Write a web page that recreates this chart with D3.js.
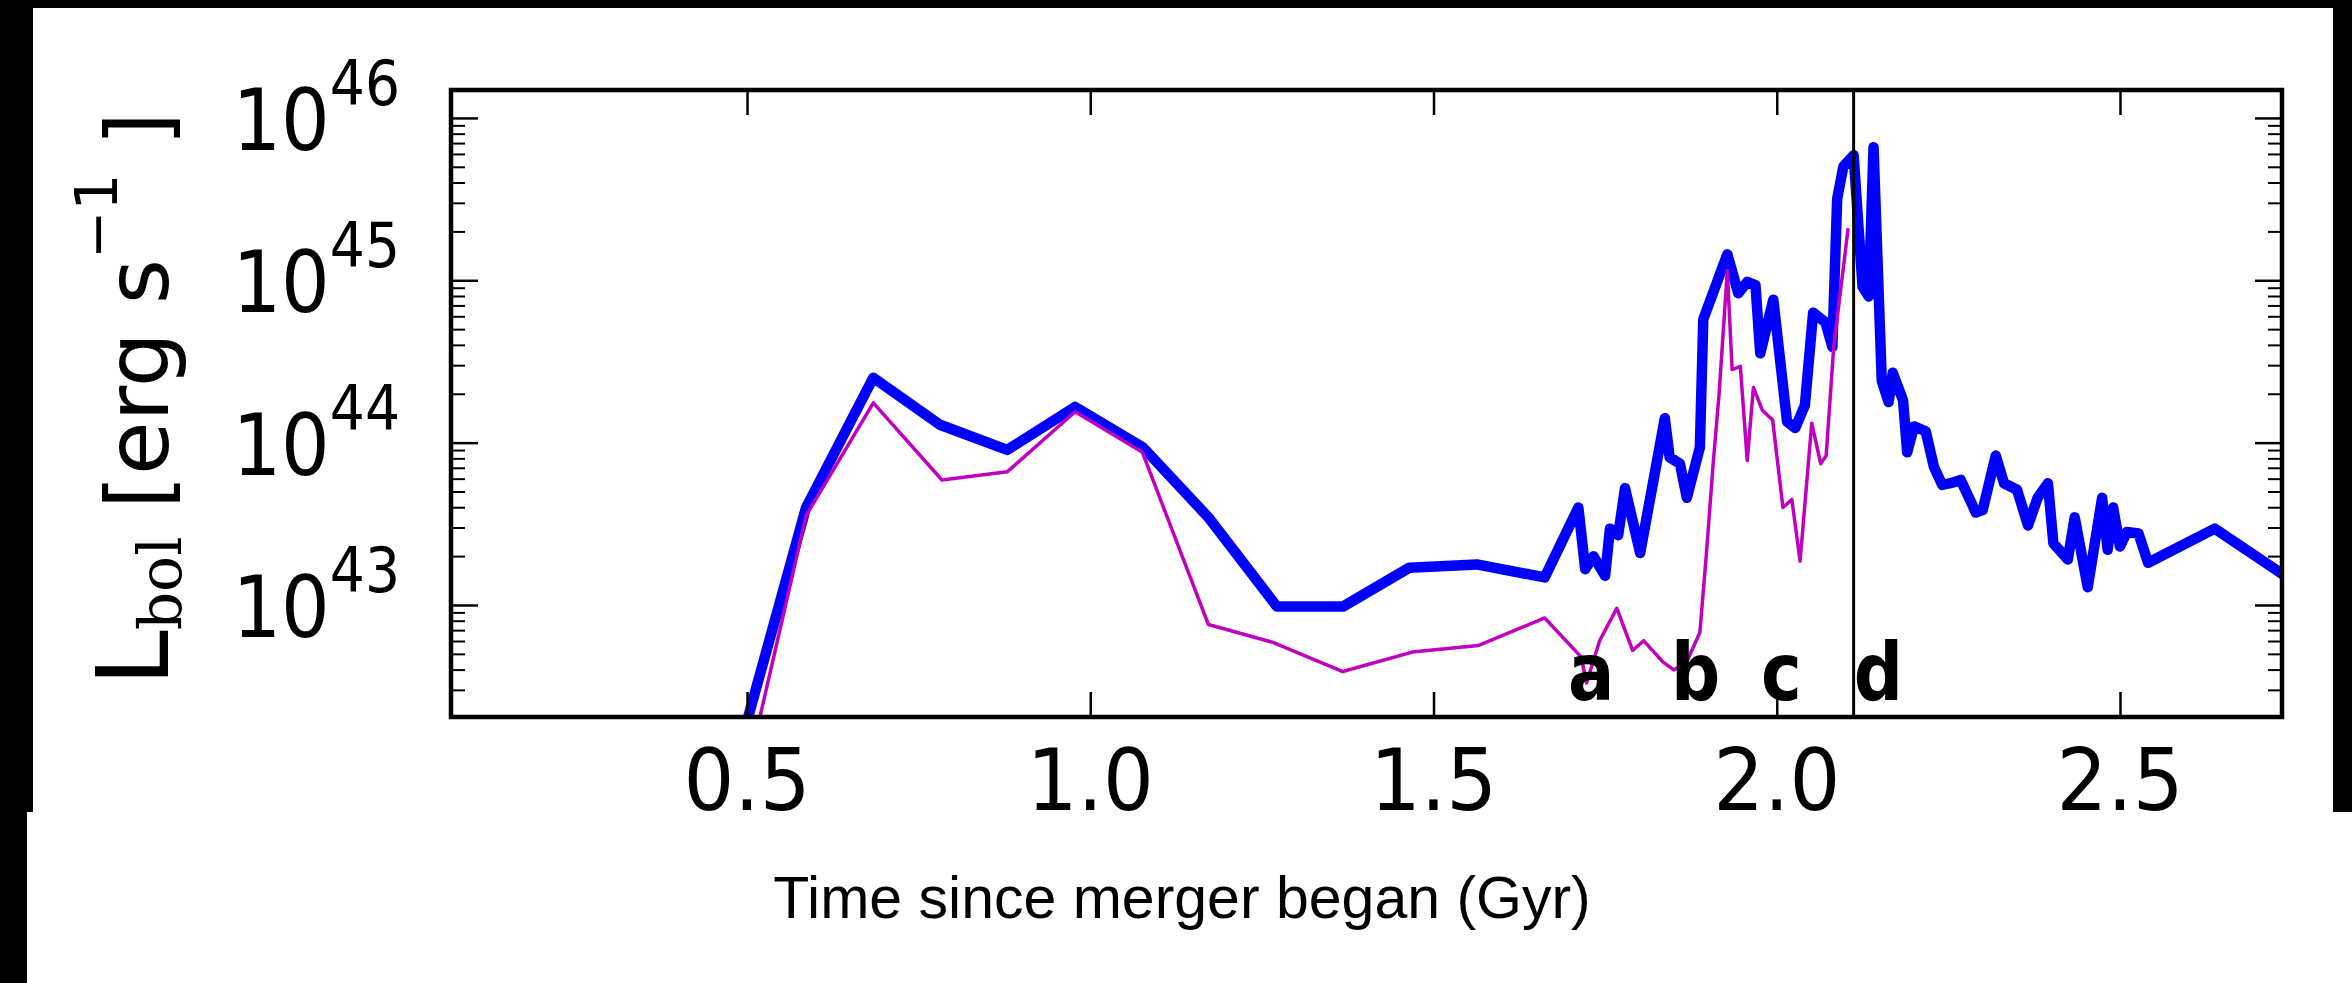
<!DOCTYPE html>
<html>
<head>
<meta charset="utf-8">
<script src="https://cdn.jsdelivr.net/npm/d3@7"></script>
<style>
  body { margin: 0; background: #000; }
  svg { display: block; }
</style>
</head>
<body>
<div class="chart"></div>
<script>
// bolometric luminosity during the merger, thick blue = total, thin magenta = one black hole
// values are log10(L / erg s^-1)

var blueTime = [0.488, 0.586, 0.684, 0.781, 0.879, 0.978, 1.077, 1.172, 1.272, 1.368,
  1.465, 1.563, 1.662, 1.711, 1.721, 1.733, 1.750, 1.757, 1.769, 1.779,
  1.801, 1.837, 1.844, 1.859, 1.869, 1.888, 1.893, 1.928, 1.944, 1.957,
  1.969, 1.976, 1.995, 2.015, 2.027, 2.041, 2.053, 2.071, 2.081, 2.088,
  2.097, 2.112, 2.125, 2.134, 2.141, 2.153, 2.163, 2.169, 2.184, 2.190,
  2.200, 2.217, 2.229, 2.241, 2.253, 2.268, 2.290, 2.300, 2.319, 2.331,
  2.350, 2.366, 2.380, 2.395, 2.403, 2.424, 2.434, 2.453, 2.474, 2.482,
  2.490, 2.500, 2.510, 2.527, 2.541, 2.638, 2.733, 2.760]
var blueLogL = [42.10, 43.60, 44.40, 44.11, 43.955, 44.22, 43.97, 43.54, 42.99, 42.99,
  43.23, 43.25, 43.17, 43.60, 43.22, 43.30, 43.18, 43.47, 43.43, 43.72,
  43.32, 44.15, 43.91, 43.87, 43.66, 43.97, 44.76, 45.16, 44.92, 44.99,
  44.97, 44.55, 44.88, 44.13, 44.09, 44.23, 44.80, 44.74, 44.59, 45.50,
  45.70, 45.77, 44.96, 44.90, 45.82, 44.38, 44.25, 44.43, 44.26, 43.94,
  44.10, 44.07, 43.85, 43.74, 43.75, 43.77, 43.57, 43.585, 43.92, 43.75,
  43.71, 43.49, 43.66, 43.75, 43.38, 43.28, 43.54, 43.11, 43.66, 43.34,
  43.60, 43.36, 43.45, 43.44, 43.26, 43.47, 43.20, 43.12]

var magentaTime = [0.488, 0.586, 0.684, 0.784, 0.879, 0.978, 1.076, 1.172, 1.266, 1.368,
  1.469, 1.565, 1.662, 1.715, 1.723, 1.742, 1.767, 1.790, 1.806, 1.834,
  1.850, 1.869, 1.888, 1.898, 1.907, 1.916, 1.928, 1.935, 1.947, 1.957,
  1.966, 1.979, 1.994, 2.009, 2.022, 2.034, 2.051, 2.064, 2.072, 2.083,
  2.104]
var magentaLogL = [41.74, 43.55, 44.245, 43.77, 43.82, 44.19, 43.94, 42.88, 42.77, 42.59,
  42.71, 42.75, 42.92, 42.68, 42.52, 42.78, 42.98, 42.72, 42.78, 42.65,
  42.60, 42.65, 42.83, 43.34, 43.85, 44.30, 45.06, 44.45, 44.47, 43.89,
  44.34, 44.20, 44.14, 43.60, 43.65, 43.27, 44.12, 43.87, 43.92, 44.59,
  45.32]

var xTicks = [0.5, 1.0, 1.5, 2.0, 2.5]
var yTickExp = [43, 44, 45, 46]
var snapLabels = ['a', 'b', 'c', 'd']
var snapTimes = [1.696, 1.846, 1.977, 2.112]
var snapLogL = 42.415
var markerTime = 2.112

// page size and the plot box
var W = 2352
var H = 983
var margin = { top: 90, right: 70, bottom: 266, left: 451 }
var width = W - margin.left - margin.right
var height = H - margin.top - margin.bottom

var svg = d3.select('.chart')
  .append('svg')
  .attr('width', W)
  .attr('height', H)

// the white card on the black page (two pieces, slightly offset)
svg.append('rect').attr('x', 0).attr('y', 0).attr('width', W).attr('height', H).attr('fill', '#000')
svg.append('rect').attr('x', 33).attr('y', 8).attr('width', 2300).attr('height', 804).attr('fill', '#fff')
svg.append('rect').attr('x', 27).attr('y', 812).attr('width', W - 27).attr('height', H - 812).attr('fill', '#fff')

var g = svg.append('g')
  .attr('transform', 'translate(' + margin.left + ',' + margin.top + ')')

// scales
var x = d3.scaleLinear()
  .domain([0.0688, 2.736])
  .range([0, width])

var y = d3.scaleLog()
  .domain([Math.pow(10, 42.31), Math.pow(10, 46.172)])
  .range([height, 0])

// clip lines to the axes box
g.append('clipPath').attr('id', 'clip')
  .append('rect').attr('width', width).attr('height', height)

var line = d3.line()
  .x(function (d) { return x(d.t) })
  .y(function (d) { return y(Math.pow(10, d.v)) })

var blue = blueTime.map(function (t, i) { return { t: t, v: blueLogL[i] } })
var magenta = magentaTime.map(function (t, i) { return { t: t, v: magentaLogL[i] } })

g.append('path')
  .datum(blue)
  .attr('clip-path', 'url(#clip)')
  .attr('d', line)
  .attr('fill', 'none')
  .attr('stroke', '#0000ff')
  .attr('stroke-width', 10.5)
  .attr('stroke-linejoin', 'round')

g.append('path')
  .datum(magenta)
  .attr('clip-path', 'url(#clip)')
  .attr('d', line)
  .attr('fill', 'none')
  .attr('stroke', '#bf00bf')
  .attr('stroke-width', 3.5)
  .attr('stroke-linejoin', 'round')

// vertical marker line
g.append('line')
  .attr('x1', x(markerTime))
  .attr('x2', x(markerTime))
  .attr('y1', 0)
  .attr('y2', height)
  .attr('stroke', '#000')
  .attr('stroke-width', 3)

// snapshot letters
g.selectAll('.snap')
  .data(snapLabels)
  .enter()
  .append('text')
  .attr('class', 'snap')
  .attr('transform', function (d, i) {
    return 'translate(' + x(snapTimes[i]) + ',' + y(Math.pow(10, snapLogL)) + ') scale(0.86,1)'
  })
  .style('font-family', 'DejaVu Sans')
  .style('font-weight', 'bold')
  .style('font-size', '80px')
  .text(function (d) { return d })

// minor ticks on the log axis
var minor = []
for (var e = 42; e <= 46; e++) {
  for (var m = 2; m <= 9; m++) {
    var v = m * Math.pow(10, e)
    if (v > y.domain()[0] && v < y.domain()[1]) minor.push(v)
  }
}
var majorY = yTickExp.map(function (e) { return Math.pow(10, e) })

function styleAxis (sel, w) {
  sel.select('.domain').remove()
  sel.selectAll('line').attr('stroke', '#000').attr('stroke-width', w)
}

// ticks point inwards on all four sides
g.append('g').call(d3.axisBottom(x).tickValues(xTicks).tickSize(-25).tickFormat(''))
  .attr('transform', 'translate(0,' + height + ')').call(styleAxis, 2.5)
g.append('g').call(d3.axisTop(x).tickValues(xTicks).tickSize(-25).tickFormat(''))
  .call(styleAxis, 2.5)
g.append('g').call(d3.axisLeft(y).tickValues(majorY).tickSize(-27).tickFormat(''))
  .call(styleAxis, 2.5)
g.append('g').call(d3.axisLeft(y).tickValues(minor).tickSize(-14).tickFormat(''))
  .call(styleAxis, 2)
g.append('g').call(d3.axisRight(y).tickValues(majorY).tickSize(-27).tickFormat(''))
  .attr('transform', 'translate(' + width + ',0)').call(styleAxis, 2.5)
g.append('g').call(d3.axisRight(y).tickValues(minor).tickSize(-14).tickFormat(''))
  .attr('transform', 'translate(' + width + ',0)').call(styleAxis, 2)

// frame
g.append('rect')
  .attr('width', width)
  .attr('height', height)
  .attr('fill', 'none')
  .attr('stroke', '#000')
  .attr('stroke-width', 4.5)

// x tick labels
g.selectAll('.xlab')
  .data(xTicks)
  .enter()
  .append('text')
  .attr('class', 'xlab')
  .attr('transform', function (d) { return 'translate(' + x(d) + ',' + (height + 93) + ') scale(0.93,1)' })
  .style('font-family', 'DejaVu Sans')
  .style('font-size', '86px')
  .style('text-anchor', 'middle')
  .text(function (d) { return d3.format('.1f')(d) })

// y tick labels, 10^n
var ylab = g.selectAll('.ylab')
  .data(yTickExp)
  .enter()
  .append('text')
  .attr('class', 'ylab')
  .attr('transform', function (d) { return 'translate(-51,' + (y(Math.pow(10, d)) + 32) + ') scale(0.89,1)' })
  .style('font-family', 'DejaVu Sans')
  .style('text-anchor', 'end')
ylab.append('tspan').style('font-size', '86px').text('10')
ylab.append('tspan').style('font-size', '62px').attr('dy', -45).text(function (d) { return d })

// y axis title
var ytitle = svg.append('text')
  .attr('transform', 'translate(168,399) rotate(-90)')
  .style('font-family', 'DejaVu Sans')
  .style('text-anchor', 'middle')
ytitle.append('tspan').style('font-size', '100px').text('L')
ytitle.append('tspan').style('font-size', '60px').style('font-family', 'DejaVu Serif').attr('dy', 13).text('bol')
ytitle.append('tspan').style('font-size', '87px').attr('dy', -13).text('\u00a0[erg s')
ytitle.append('tspan').style('font-size', '58px').attr('dy', -51).text('\u22121')
ytitle.append('tspan').style('font-size', '87px').attr('dy', 51).text('\u00a0]')

// x axis title
svg.append('text')
  .attr('x', 1182)
  .attr('y', 918)
  .style('font-family', 'Liberation Sans')
  .style('font-size', '59px')
  .style('text-anchor', 'middle')
  .text('Time since merger began (Gyr)')
</script>
</body>
</html>
